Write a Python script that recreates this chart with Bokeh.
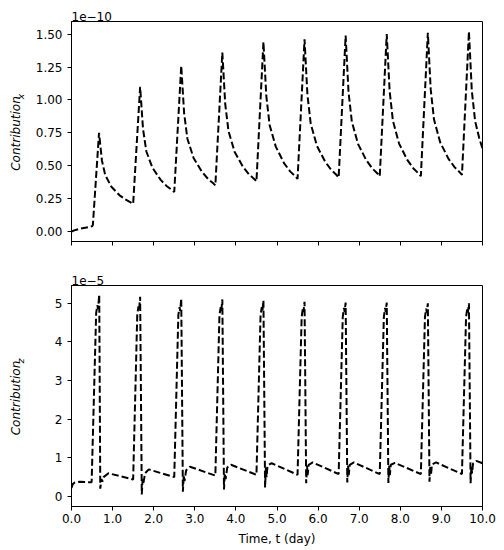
import math
from bokeh.plotting import figure
from bokeh.layouts import column, row
from bokeh.models import Range1d, FixedTicker, NumeralTickFormatter, ColumnDataSource, CustomJSTickFormatter
from bokeh.core.properties import value
from bokeh.embed import file_html
from bokeh.resources import INLINE

# ---------------- data ----------------
# Top panel: Contribution_x (units of 1e-10), time in days
t_x = [0.0, 0.1, 0.2, 0.3, 0.4, 0.5, 0.52,
       0.67, 0.74, 0.82, 0.97, 1.17, 1.32, 1.45, 1.5,
       1.67, 1.74, 1.82, 1.97, 2.17, 2.32, 2.45, 2.5,
       2.67, 2.74, 2.82, 2.97, 3.17, 3.32, 3.45, 3.5,
       3.67, 3.74, 3.82, 3.97, 4.17, 4.32, 4.45, 4.5,
       4.67, 4.74, 4.82, 4.97, 5.17, 5.32, 5.45, 5.5,
       5.67, 5.74, 5.82, 5.97, 6.17, 6.32, 6.45, 6.5,
       6.67, 6.74, 6.82, 6.97, 7.17, 7.32, 7.45, 7.5,
       7.67, 7.74, 7.82, 7.97, 8.17, 8.32, 8.45, 8.5,
       8.67, 8.74, 8.82, 8.97, 9.17, 9.32, 9.45, 9.5,
       9.67, 9.74, 9.82, 9.92, 10.0]
contrib_x = [0.0, 0.012, 0.02, 0.027, 0.033, 0.04, 0.05,
             0.75, 0.54, 0.43, 0.34, 0.275, 0.242, 0.22, 0.21,
             1.10, 0.78, 0.61, 0.484, 0.392, 0.344, 0.314, 0.30,
             1.26, 0.90, 0.705, 0.559, 0.455, 0.40, 0.366, 0.35,
             1.36, 0.97, 0.762, 0.605, 0.493, 0.434, 0.398, 0.38,
             1.44, 1.03, 0.81, 0.645, 0.52, 0.457, 0.419, 0.40,
             1.46, 1.04, 0.82, 0.652, 0.531, 0.468, 0.429, 0.41,
             1.49, 1.06, 0.837, 0.666, 0.543, 0.479, 0.439, 0.42,
             1.50, 1.07, 0.841, 0.668, 0.544, 0.479, 0.439, 0.42,
             1.51, 1.08, 0.851, 0.678, 0.554, 0.489, 0.449, 0.43,
             1.52, 1.07, 0.84, 0.71, 0.63]

# Bottom panel: Contribution_z (units of 1e-5), time in days
t_z = [0.0, 0.03, 0.08, 0.2, 0.35, 0.49,
       0.6, 0.63, 0.645, 0.675, 0.70, 0.73, 0.75, 0.78, 0.9, 1.5,
       1.6, 1.63, 1.645, 1.67, 1.71, 1.73, 1.75, 1.79, 1.88, 2.5,
       2.6, 2.63, 2.645, 2.67, 2.71, 2.73, 2.75, 2.79, 2.88, 3.5,
       3.6, 3.63, 3.645, 3.67, 3.71, 3.73, 3.75, 3.79, 3.88, 4.5,
       4.6, 4.63, 4.645, 4.67, 4.71, 4.73, 4.745, 4.77, 4.87, 5.5,
       5.6, 5.63, 5.645, 5.67, 5.71, 5.73, 5.745, 5.77, 5.87, 6.5,
       6.6, 6.63, 6.645, 6.67, 6.71, 6.73, 6.745, 6.77, 6.87, 7.5,
       7.6, 7.63, 7.645, 7.67, 7.71, 7.73, 7.745, 7.77, 7.87, 8.5,
       8.6, 8.63, 8.645, 8.67, 8.71, 8.73, 8.745, 8.77, 8.87, 9.5,
       9.6, 9.63, 9.645, 9.67, 9.71, 9.73, 9.745, 9.77, 9.85, 10.0]
contrib_z = [0.22, 0.32, 0.36, 0.38, 0.37, 0.37,
             4.75, 4.95, 4.85, 5.22, 0.20, 0.45, 0.38, 0.50, 0.60, 0.44,
             4.70, 4.92, 4.82, 5.17, 0.05, 0.45, 0.35, 0.60, 0.70, 0.50,
             4.70, 4.90, 4.80, 5.13, 0.12, 0.55, 0.40, 0.68, 0.77, 0.54,
             4.70, 4.90, 4.80, 5.10, 0.18, 0.60, 0.45, 0.75, 0.82, 0.56,
             4.70, 4.90, 4.80, 5.07, 0.23, 0.75, 0.50, 0.80, 0.86, 0.56,
             4.65, 4.88, 4.78, 5.04, 0.34, 0.80, 0.55, 0.82, 0.88, 0.58,
             4.65, 4.88, 4.78, 5.02, 0.36, 0.80, 0.55, 0.82, 0.88, 0.58,
             4.65, 4.88, 4.78, 5.02, 0.35, 0.80, 0.55, 0.82, 0.87, 0.58,
             4.65, 4.86, 4.76, 5.00, 0.38, 0.80, 0.55, 0.83, 0.88, 0.58,
             4.65, 4.86, 4.76, 5.00, 0.34, 0.80, 0.60, 0.85, 0.92, 0.86]

x_ticks = [0, 1, 2, 3, 4, 5, 6, 7, 8, 9, 10]
yx_ticks = [0.0, 0.25, 0.5, 0.75, 1.0, 1.25, 1.5]
yz_ticks = [0, 1, 2, 3, 4, 5]
x_label = "Time, t (day)"
y_label_main = "Contribution"
y_sub_top = "x"
y_sub_bottom = "z"
offset_top = "1e\u221210"
offset_bottom = "1e\u22125"

FONT = "DejaVu Sans"
H1, H2 = 263, 287
LW = 32       # width of the y-label strip
PW = 472      # width of each plot


def style(p, yticks, yfmt, show_x_labels):
    p.xgrid.visible = False
    p.ygrid.visible = False
    p.outline_line_color = "black"
    p.outline_line_width = 1
    p.outline_line_alpha = 1
    p.background_fill_color = "white"
    p.border_fill_color = "white"
    for ax in (p.xaxis[0], p.yaxis[0]):
        ax.axis_line_color = "black"
        ax.major_tick_line_color = "black"
        ax.minor_tick_line_color = None
        ax.major_tick_out = 4
        ax.major_tick_in = 0
        ax.major_label_text_font = FONT
        ax.major_label_text_font_size = "12px"
        ax.major_label_text_color = "black"
    p.xaxis.ticker = FixedTicker(ticks=x_ticks)
    if show_x_labels:
        p.xaxis.formatter = NumeralTickFormatter(format="0.0")
    else:
        p.xaxis.formatter = CustomJSTickFormatter(code="return ''")
    p.xaxis.major_label_standoff = 3
    p.yaxis.ticker = FixedTicker(ticks=yticks)
    p.yaxis.formatter = NumeralTickFormatter(format=yfmt)
    p.yaxis.major_label_standoff = 5
    p.title.align = "left"
    p.title.text_font = FONT
    p.title.text_font_size = "12px"
    p.title.text_font_style = "normal"
    p.title.text_color = "black"
    p.title.standoff = 1


def label_strip(height, main_y, sub_y, sub_text):
    s = figure(width=LW, height=height, x_range=Range1d(0, LW), y_range=Range1d(0, height),
               output_backend="svg", toolbar_location=None, x_axis_type=None, y_axis_type=None,
               min_border=0, min_border_left=0, min_border_right=0,
               min_border_top=0, min_border_bottom=0)
    s.outline_line_color = None
    s.xgrid.visible = False
    s.ygrid.visible = False
    s.background_fill_color = "white"
    s.border_fill_color = "white"
    s.text(x=[15], y=[main_y], text=[y_label_main], angle=math.pi / 2,
           text_align="center", text_baseline="middle", text_font=value(FONT),
           text_font_size=value("12px"), text_font_style="italic", text_color="black")
    s.text(x=[20], y=[sub_y], text=[sub_text], angle=math.pi / 2,
           text_align="center", text_baseline="middle", text_font=value(FONT),
           text_font_size=value("9px"), text_font_style="italic", text_color="black")
    return s


# top figure
y1 = Range1d(-0.076, 1.596)
p1 = figure(width=PW, height=H1, x_range=Range1d(0, 10), y_range=y1, title=offset_top,
            output_backend="svg", toolbar_location=None,
            min_border_left=32, min_border_right=22, min_border_top=21, min_border_bottom=22)
style(p1, yx_ticks, "0.00", False)
src1 = ColumnDataSource(dict(t=t_x, v=contrib_x))
p1.line("t", "v", source=src1, line_color="black", line_width=2, line_dash="7 3")

# bottom figure
y2 = Range1d(-0.26, 5.46)
p2 = figure(width=PW, height=H2, x_range=Range1d(0, 10), y_range=y2, title=offset_bottom,
            output_backend="svg", toolbar_location=None,
            min_border_left=32, min_border_right=22, min_border_top=22, min_border_bottom=44)
style(p2, yz_ticks, "0", True)
src2 = ColumnDataSource(dict(t=t_z, v=contrib_z))
p2.line("t", "v", source=src2, line_color="black", line_width=2, line_dash="7 3")
p2.xaxis.axis_label = x_label
p2.xaxis.axis_label_text_font = FONT
p2.xaxis.axis_label_text_font_size = "12px"
p2.xaxis.axis_label_text_font_style = "normal"
p2.xaxis.axis_label_text_color = "black"
p2.xaxis.axis_label_standoff = 6

# y-label strips (main word + subscript), positions in strip pixels
l1 = label_strip(H1, 130, 167, y_sub_top)
l2 = label_strip(H2, 152.5, 189.5, y_sub_bottom)

layout = row(column(l1, l2), column(p1, p2))
open("out.html", "w").write(file_html(layout, INLINE))
